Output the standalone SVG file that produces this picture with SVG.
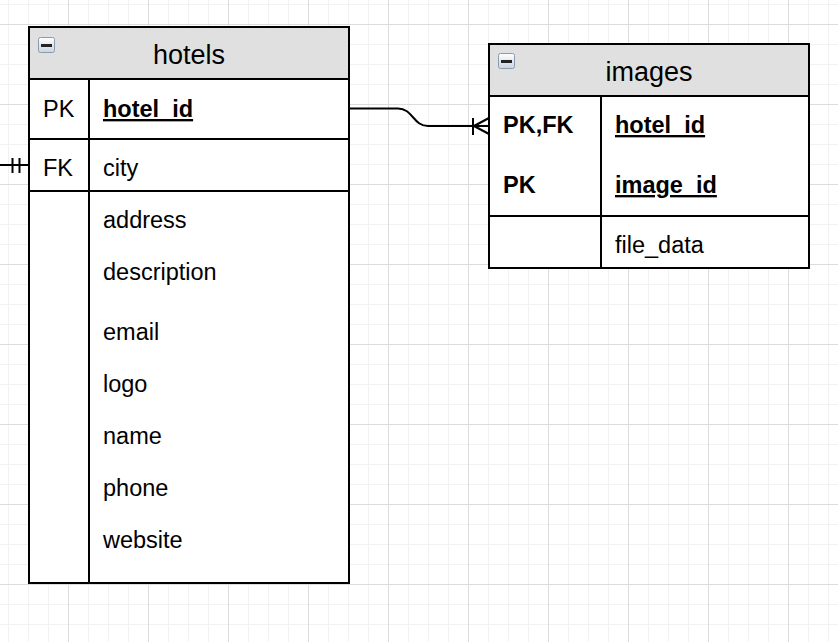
<svg xmlns="http://www.w3.org/2000/svg" width="838" height="642" viewBox="0 0 838 642">
<defs>
<pattern id="grid" patternUnits="userSpaceOnUse" x="68" y="24" width="80" height="80">
<rect x="0" y="0" width="80" height="80" fill="#ffffff"/>
<rect x="20" y="0" width="1" height="80" fill="#f2f2f2"/>
<rect x="40" y="0" width="1" height="80" fill="#f2f2f2"/>
<rect x="60" y="0" width="1" height="80" fill="#f2f2f2"/>
<rect x="0" y="20" width="80" height="1" fill="#f2f2f2"/>
<rect x="0" y="40" width="80" height="1" fill="#f2f2f2"/>
<rect x="0" y="60" width="80" height="1" fill="#f2f2f2"/>
<rect x="0" y="0" width="1" height="80" fill="#dcdcdc"/>
<rect x="0" y="0" width="80" height="1" fill="#dcdcdc"/>
</pattern>
<linearGradient id="iconGrad" x1="0" y1="0" x2="0" y2="1">
<stop offset="0" stop-color="#ffffff"/>
<stop offset="1" stop-color="#c9d3de"/>
</linearGradient>
<g id="collapse">
<rect x="0.5" y="0.5" width="16" height="15" rx="2" fill="url(#iconGrad)" stroke="#8a9bb0" stroke-width="1"/>
<rect x="3" y="7" width="11" height="3" fill="#222222"/>
</g>
</defs>
<style>
.box{fill:#ffffff;stroke:#000000;stroke-width:2}
.head{fill:#e0e0e0;stroke:#000000;stroke-width:2}
.ln{stroke:#000000;stroke-width:2;fill:none}
.title{font-family:"Liberation Sans",Arial,sans-serif;font-size:27px;fill:#000000;text-anchor:middle}
.t{font-family:"Liberation Sans",Arial,sans-serif;font-size:23.5px;fill:#000000}
.b{font-weight:bold}
.u{text-decoration:underline}
.conn{stroke:#000000;stroke-width:2;fill:none}
</style>
<rect x="0" y="0" width="838" height="642" fill="url(#grid)"/>

<g id="hotels">
<rect class="box" x="29" y="27" width="320" height="556"/>
<rect class="head" x="29" y="27" width="320" height="52"/>
<use href="#collapse" x="38" y="37"/>
<text class="title" x="189" y="64">hotels</text>
<line class="ln" x1="89" y1="79" x2="89" y2="583"/>
<line class="ln" x1="29" y1="139" x2="349" y2="139"/>
<line class="ln" x1="29" y1="191" x2="349" y2="191"/>
<text class="t" x="43" y="117">PK</text>
<text class="t b u" x="103" y="117">hotel_id</text>
<text class="t" x="43" y="176">FK</text>
<text class="t" x="103" y="176">city</text>
<text class="t" x="103" y="228">address</text>
<text class="t" x="103" y="280">description</text>
<text class="t" x="103" y="340">email</text>
<text class="t" x="103" y="392">logo</text>
<text class="t" x="103" y="444">name</text>
<text class="t" x="103" y="496">phone</text>
<text class="t" x="103" y="548">website</text>
</g>

<g id="images">
<rect class="box" x="489" y="44" width="320" height="224"/>
<rect class="head" x="489" y="44" width="320" height="52"/>
<use href="#collapse" x="498" y="53"/>
<text class="title" x="649" y="81">images</text>
<line class="ln" x1="601" y1="96" x2="601" y2="268"/>
<line class="ln" x1="489" y1="216" x2="809" y2="216"/>
<text class="t b" x="503" y="133">PK,FK</text>
<text class="t b u" x="615" y="133">hotel_id</text>
<text class="t b" x="503" y="193">PK</text>
<text class="t b u" x="615" y="193">image_id</text>
<text class="t" x="615" y="253">file_data</text>
</g>

<g id="connectors">
<path class="conn" d="M349 108.5 H398 C413 108.5 413 126 428 126 H489"/>
<line class="conn" x1="473" y1="118" x2="473" y2="135"/>
<line class="conn" x1="474" y1="126" x2="489" y2="118"/>
<line class="conn" x1="474" y1="126" x2="489" y2="134"/>
<line class="conn" x1="0" y1="165" x2="29" y2="165"/>
<line class="conn" x1="12.5" y1="158" x2="12.5" y2="173"/>
<line class="conn" x1="19.5" y1="158" x2="19.5" y2="173"/>
</g>
</svg>
